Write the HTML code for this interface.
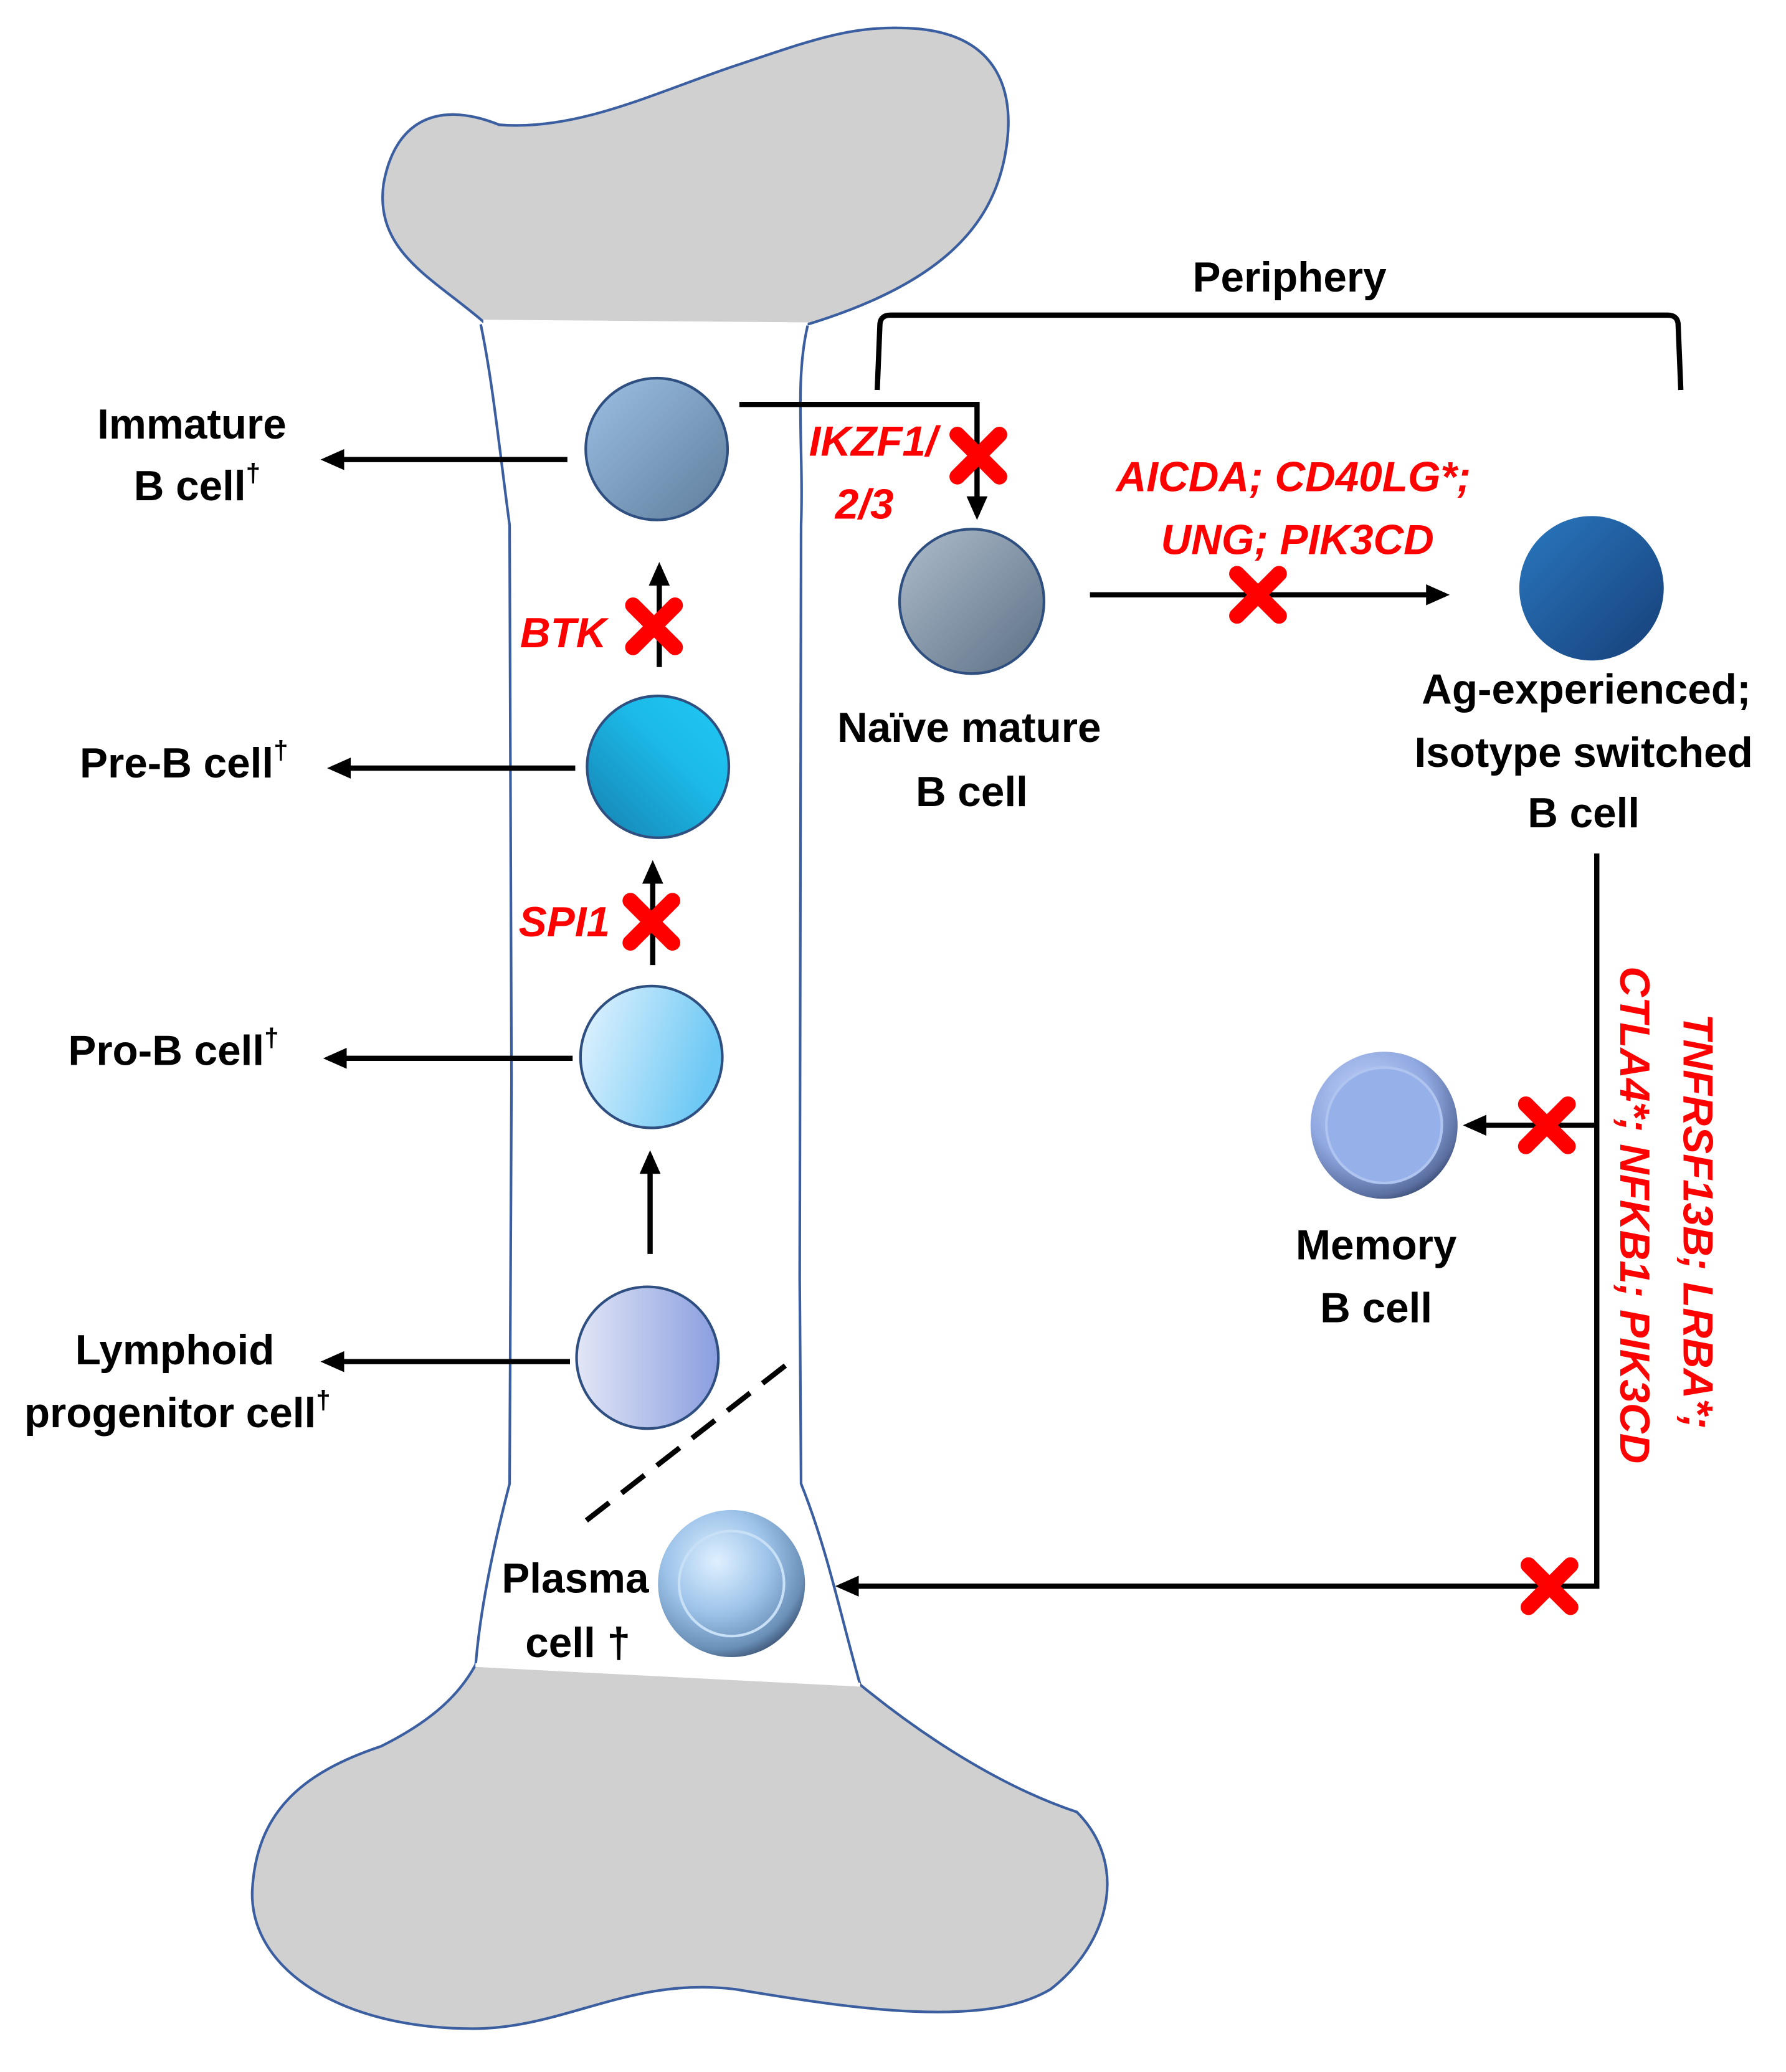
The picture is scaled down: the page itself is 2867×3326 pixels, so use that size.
<!DOCTYPE html>
<html><head><meta charset="utf-8"><style>html,body{margin:0;padding:0;background:#fff}svg{display:block}</style></head>
<body>
<svg width="2867" height="3326" viewBox="0 0 1360 1578" xmlns="http://www.w3.org/2000/svg" font-family="Liberation Sans, sans-serif" font-weight="bold">
<defs>
<linearGradient id="g1" x1="0" y1="0" x2="1" y2="1"><stop offset="0" stop-color="#9cc0e4"/><stop offset="1" stop-color="#5f7d9c"/></linearGradient>
<linearGradient id="g2" x1="0" y1="1" x2="1" y2="0"><stop offset="0" stop-color="#1580b0"/><stop offset="0.6" stop-color="#1cbae8"/><stop offset="1" stop-color="#20c8f4"/></linearGradient>
<linearGradient id="g3" x1="0" y1="0" x2="1" y2="0.3"><stop offset="0" stop-color="#e6f4ff"/><stop offset="1" stop-color="#6cc8f4"/></linearGradient>
<linearGradient id="g4" x1="0" y1="0" x2="1" y2="0"><stop offset="0" stop-color="#e2e6f6"/><stop offset="1" stop-color="#8a9ee0"/></linearGradient>
<linearGradient id="g5" x1="0" y1="0" x2="1" y2="1"><stop offset="0" stop-color="#aebdcc"/><stop offset="1" stop-color="#5c6f84"/></linearGradient>
<linearGradient id="g6" x1="0" y1="0" x2="1" y2="1"><stop offset="0" stop-color="#2a78c0"/><stop offset="1" stop-color="#163f78"/></linearGradient>
<radialGradient id="g7" cx="0.4" cy="0.35" r="0.7"><stop offset="0" stop-color="#dff0ff"/><stop offset="0.5" stop-color="#9ec4ea"/><stop offset="0.85" stop-color="#6a90b8"/><stop offset="1" stop-color="#3a5070"/></radialGradient>
<radialGradient id="g8" cx="0.4" cy="0.35" r="0.7"><stop offset="0" stop-color="#c8d8ff"/><stop offset="0.6" stop-color="#90a8e0"/><stop offset="0.9" stop-color="#5a6ea0"/><stop offset="1" stop-color="#384a70"/></radialGradient>
<marker id="ah" markerWidth="4.5" markerHeight="4" refX="3.5" refY="2" orient="auto" markerUnits="strokeWidth"><path d="M0,0 L4.5,2 L0,4 z" fill="#000"/></marker>
<g id="x"><g stroke="#f00" stroke-width="12" stroke-linecap="round"><line x1="-16" y1="-16" x2="16" y2="16"/><line x1="16" y1="-16" x2="-16" y2="16"/></g></g>
</defs>
<!-- bone -->
<path d="M368,245 C330,212 285,192 292,140 C300,95 330,75 380,95 C440,100 500,70 560,50 C620,30 650,18 700,22 C760,28 775,70 765,120 C755,170 720,215 615,247 Z" fill="#d0d0d0" stroke="#3a5ea0" stroke-width="2"/>
<path d="M368,245 L615,247" stroke="#fff" stroke-width="3"/>
<path d="M366,247 C375,290 380,340 388,400 C390,600 390,900 388,1130 C375,1180 365,1230 362,1270" fill="none" stroke="#3a5ea0" stroke-width="2"/>
<path d="M615,248 C605,290 612,340 610,400 C608,700 608,900 610,1130 C630,1180 640,1230 655,1283" fill="none" stroke="#3a5ea0" stroke-width="2"/>
<path d="M362,1268 L655,1283 C700,1320 760,1360 820,1380 C860,1420 845,1480 800,1515 C750,1545 650,1530 560,1515 C480,1505 430,1545 360,1545 C260,1545 190,1500 192,1440 C195,1380 230,1350 290,1330 C330,1310 350,1290 362,1268 Z" fill="#d0d0d0" stroke="#3a5ea0" stroke-width="2"/>
<path d="M362,1268 L655,1283" stroke="#fff" stroke-width="3"/>
<!-- cells -->
<circle cx="500" cy="342" r="54" fill="url(#g1)" stroke="#2e4f80" stroke-width="2"/>
<circle cx="501" cy="584" r="54" fill="url(#g2)" stroke="#2e4f80" stroke-width="2"/>
<circle cx="496" cy="805" r="54" fill="url(#g3)" stroke="#2e4f80" stroke-width="2"/>
<circle cx="493" cy="1034" r="54" fill="url(#g4)" stroke="#2e4f80" stroke-width="2"/>
<circle cx="740" cy="458" r="55" fill="url(#g5)" stroke="#2e4f80" stroke-width="2"/>
<circle cx="1212" cy="448" r="55" fill="url(#g6)"/>
<circle cx="557" cy="1206" r="56" fill="url(#g7)"/>
<circle cx="557" cy="1206" r="40" fill="none" stroke="#c8e0f6" stroke-width="2"/>
<circle cx="1054" cy="857" r="56" fill="url(#g8)"/>
<circle cx="1054" cy="857" r="44" fill="#96b0ea" stroke="#b0c4f0" stroke-width="2"/>
<!-- arrows -->
<g stroke="#000" stroke-width="4" fill="none">
<line x1="432" y1="350" x2="248" y2="350" marker-end="url(#ah)"/>
<line x1="438" y1="585" x2="253" y2="585" marker-end="url(#ah)"/>
<line x1="436" y1="806" x2="250" y2="806" marker-end="url(#ah)"/>
<line x1="434" y1="1037" x2="248" y2="1037" marker-end="url(#ah)"/>
<line x1="502" y1="508" x2="502" y2="432" marker-end="url(#ah)"/>
<line x1="497" y1="735" x2="497" y2="659" marker-end="url(#ah)"/>
<line x1="495" y1="955" x2="495" y2="880" marker-end="url(#ah)"/>
<polyline points="563,308 744,308 744,392" marker-end="url(#ah)"/>
<line x1="830" y1="453" x2="1100" y2="453" marker-end="url(#ah)"/>
<polyline points="1216,650 1216,1208 640,1208" marker-end="url(#ah)"/>
<line x1="1216" y1="857" x2="1118" y2="857" marker-end="url(#ah)"/>
<path d="M668,297 L670,248 Q670,240 678,240 L1270,240 Q1278,240 1278,248 L1280,297"/>
<line x1="598" y1="1040" x2="440" y2="1163" stroke-dasharray="22,12"/>
</g>
<use href="#x" x="498" y="477"/>
<use href="#x" x="496" y="702"/>
<use href="#x" x="745" y="347"/>
<use href="#x" x="958" y="453"/>
<use href="#x" x="1178" y="857"/>
<use href="#x" x="1180" y="1208"/>
<!-- black text -->
<g font-size="32" fill="#000" text-anchor="middle">
<text x="146" y="334">Immature</text>
<text x="150" y="381">B cell<tspan font-size="20" dy="-14">†</tspan></text>
<text x="140" y="592">Pre-B cell<tspan font-size="20" dy="-14">†</tspan></text>
<text x="132" y="811">Pro-B cell<tspan font-size="20" dy="-14">†</tspan></text>
<text x="133" y="1039">Lymphoid</text>
<text x="135" y="1087">progenitor cell<tspan font-size="20" dy="-14">†</tspan></text>
<text x="438" y="1213">Plasma</text>
<text x="440" y="1262">cell †</text>
<text x="982" y="222">Periphery</text>
<text x="738" y="565">Naïve mature</text>
<text x="740" y="614">B cell</text>
<text x="1208" y="536">Ag-experienced;</text>
<text x="1206" y="584">Isotype switched</text>
<text x="1206" y="630">B cell</text>
<text x="1048" y="959">Memory</text>
<text x="1048" y="1007">B cell</text>
</g>
<!-- red text -->
<g font-size="32" fill="#f00" font-style="italic">
<text x="396" y="493">BTK</text>
<text x="395" y="713">SPI1</text>
<text x="616" y="347">IKZF1/</text>
<text x="636" y="395">2/3</text>
<text x="985" y="374" text-anchor="middle">AICDA; CD40LG*;</text>
<text x="988" y="422" text-anchor="middle">UNG; PIK3CD</text>
<text transform="translate(1282,772) rotate(90)">TNFRSF13B; LRBA*;</text>
<text transform="translate(1234,736) rotate(90)">CTLA4*; NFKB1; PIK3CD</text>
</g>
</svg>
</body></html>
